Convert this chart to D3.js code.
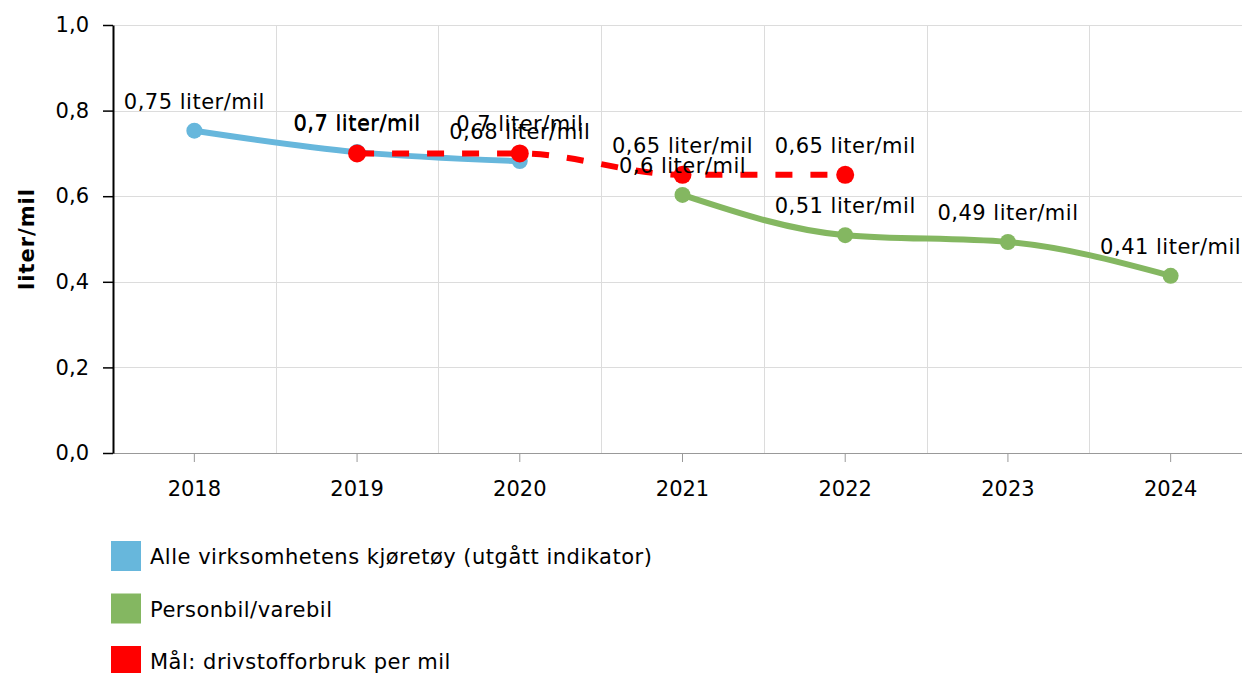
<!DOCTYPE html>
<meta charset="utf-8">
<head>
  <title>Drivstofforbruk per mil</title>
  <style>
    body { margin: 0; background: #fff; }
    text { font-family: Verdana, "DejaVu Sans", sans-serif; fill: #000; }
  </style>
</head>
<body>
  <div id="chart"></div>
  <script src="https://d3js.org/d3.v7.min.js"></script>
  <script>
    // data
    var years = ["2018", "2019", "2020", "2021", "2022", "2023", "2024"];
    var yTicks = [0, 0.2, 0.4, 0.6, 0.8, 1.0];

    var alleYears = ["2018", "2019", "2020"];
    var alleValues = [0.753, 0.703, 0.682];

    var personYears = ["2021", "2022", "2023", "2024"];
    var personValues = [0.603, 0.509, 0.493, 0.414];

    var maalYears = ["2019", "2020", "2021", "2022"];
    var maalValues = [0.70, 0.70, 0.65, 0.65];

    var seriesNames = ["Alle virksomhetens kjøretøy (utgått indikator)", "Personbil/varebil", "Mål: drivstofforbruk per mil"];
    var colors = ["#67b7dc", "#84b761", "#ff0000"];

    var W = 1242, H = 673;
    var plotL = 113, plotR = 1252, plotT = 25, plotB = 453;

    var no = d3.formatLocale({decimal: ",", thousands: " ", grouping: [3], currency: ["", " kr"]});
    var tickFmt = no.format(".1f");
    var labelFmt = no.format(".2~f");

    var svg = d3.select("#chart").append("svg")
      .attr("width", W)
      .attr("height", H);

    var x = d3.scaleBand().domain(years).range([plotL, plotR]).padding(0);
    var y = d3.scaleLinear().domain([0, 1]).range([plotB, plotT]);
    var cx = function(d) { return x(d) + x.bandwidth() / 2; };

    // grid
    svg.append("g").selectAll("line")
      .data(yTicks.filter(function(t) { return t > 0; }))
      .enter().append("line")
        .attr("x1", plotL).attr("x2", plotR)
        .attr("y1", function(d) { return Math.round(y(d)) + 0.5; })
        .attr("y2", function(d) { return Math.round(y(d)) + 0.5; })
        .attr("stroke", "#dcdcdc").attr("stroke-width", 1);

    svg.append("g").selectAll("line")
      .data(years.slice(1))
      .enter().append("line")
        .attr("x1", function(d) { return Math.round(x(d)) + 0.5; })
        .attr("x2", function(d) { return Math.round(x(d)) + 0.5; })
        .attr("y1", plotT).attr("y2", plotB)
        .attr("stroke", "#dcdcdc").attr("stroke-width", 1);

    // x axis
    var xAxis = svg.append("g")
      .attr("transform", "translate(0," + plotB + ")")
      .call(d3.axisBottom(x).tickSize(9).tickPadding(19));
    xAxis.select(".domain").attr("stroke", "#999").attr("d", "M" + (plotL - 10) + ",0.5H" + plotR);
    xAxis.selectAll(".tick line").attr("stroke", "#999");
    xAxis.selectAll("text").style("font-size", "21px").attr("fill", "#000");

    // y axis
    var yAxis = svg.append("g")
      .attr("transform", "translate(" + plotL + ",0)")
      .call(d3.axisLeft(y).tickValues(yTicks).tickFormat(tickFmt).tickSize(10).tickSizeOuter(0).tickPadding(14));
    yAxis.select(".domain").attr("stroke", "#000").attr("stroke-width", 2);
    yAxis.selectAll(".tick line").attr("stroke", "#000").attr("stroke-width", 1.5);
    yAxis.selectAll("text").style("font-size", "21px").attr("fill", "#000");

    svg.append("text")
      .attr("transform", "translate(34," + ((plotT + plotB) / 2) + ") rotate(-90)")
      .attr("text-anchor", "middle")
      .style("font-size", "21px")
      .style("font-weight", "bold")
      .style("letter-spacing", "1px")
      .text("liter/mil");

    // series
    var series = [
      {years: alleYears, values: alleValues, color: colors[0], dash: null, r: 8},
      {years: personYears, values: personValues, color: colors[1], dash: null, r: 8},
      {years: maalYears, values: maalValues, color: colors[2], dash: "17,18", r: 9}
    ];

    var line = d3.line()
      .x(function(d) { return cx(d.year); })
      .y(function(d) { return y(d.value); })
      .curve(d3.curveMonotoneX);

    series.forEach(function(s) {
      var pts = s.years.map(function(yr, i) { return {year: yr, value: s.values[i]}; });
      svg.append("path")
        .datum(pts)
        .attr("d", line)
        .attr("fill", "none")
        .attr("stroke", s.color)
        .attr("stroke-width", 6)
        .attr("stroke-dasharray", s.dash);
      svg.append("g").selectAll("circle")
        .data(pts)
        .enter().append("circle")
          .attr("cx", function(d) { return cx(d.year); })
          .attr("cy", function(d) { return y(d.value); })
          .attr("r", s.r)
          .attr("fill", s.color);
      s.pts = pts;
    });

    series.forEach(function(s) {
      svg.append("g").selectAll("text")
        .data(s.pts)
        .enter().append("text")
          .attr("x", function(d) { return cx(d.year); })
          .attr("y", function(d) { return y(d.value) - 22; })
          .attr("text-anchor", "middle")
          .style("font-size", "21px")
          .style("letter-spacing", "0.5px")
          .text(function(d) { return labelFmt(d.value) + " liter/mil"; });
    });

    // legend
    var legend = svg.append("g").selectAll("g")
      .data(seriesNames)
      .enter().append("g")
        .attr("transform", function(d, i) { return "translate(111," + (541 + i * 52.5) + ")"; });
    legend.append("rect")
      .attr("width", 30).attr("height", 30)
      .attr("fill", function(d, i) { return colors[i]; });
    legend.append("text")
      .attr("x", 39).attr("y", 23)
      .style("font-size", "21px")
      .style("letter-spacing", "0.5px")
      .text(function(d) { return d; });
  </script>
</body>
